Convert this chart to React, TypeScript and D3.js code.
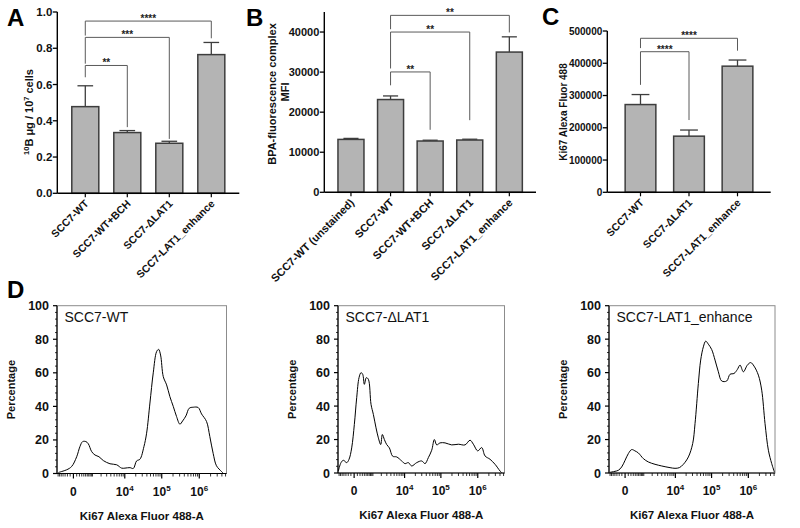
import React from "react";
import * as d3 from "d3";

const FONT = "'Liberation Sans', Arial, Helvetica, sans-serif";
const BAR_FILL = "#b4b4b4";
const BAR_STROKE = "#3d3d3d";
const BRACKET = "#5a5a5a";

// ---------- Panel A ----------
const aCategories = ["SCC7-WT", "SCC7-WT+BCH", "SCC7-ΔLAT1", "SCC7-LAT1_enhance"];
const aMeans = [0.478, 0.335, 0.276, 0.765];
const aErrors = [0.115, 0.011, 0.011, 0.067];
const aTicks = [0, 0.2, 0.4, 0.6, 0.8, 1.0];
const aBrackets = [
  { from: 0, to: 1, label: "**", y: 0.705, leftEnd: 0.64, rightEnd: 0.365 },
  { from: 0, to: 2, label: "***", y: 0.86, leftEnd: 0.715, rightEnd: 0.3 },
  { from: 0, to: 3, label: "****", y: 0.95, leftEnd: 0.87, rightEnd: 0.855 },
];

// ---------- Panel B ----------
const bCategories = ["SCC7-WT (unstained)", "SCC7-WT", "SCC7-WT+BCH", "SCC7-ΔLAT1", "SCC7-LAT1_enhance"];
const bMeans = [13200, 23150, 12800, 13050, 35000];
const bErrors = [250, 900, 200, 200, 3800];
const bTicks = [0, 10000, 20000, 30000, 40000];
const bBrackets = [
  { from: 1, to: 2, label: "**", y: 30040, leftEnd: 26700, rightEnd: 15600 },
  { from: 1, to: 3, label: "**", y: 40000, leftEnd: 30900, rightEnd: 18000 },
  { from: 1, to: 4, label: "**", y: 44160, leftEnd: 40700, rightEnd: 39900 },
];

// ---------- Panel C ----------
const cCategories = ["SCC7-WT", "SCC7-ΔLAT1", "SCC7-LAT1_enhance"];
const cMeans = [272000, 174000, 391000];
const cErrors = [31000, 19000, 19000];
const cTicks = [0, 100000, 200000, 300000, 400000, 500000];
const cBrackets = [
  { from: 0, to: 1, label: "****", y: 435800, leftEnd: 333000, rightEnd: 224000 },
  { from: 0, to: 2, label: "****", y: 477400, leftEnd: 447000, rightEnd: 439000 },
];

// ---------- Panel D (histograms) ----------
const dXDomain = [-780, 5.3e6];
const dXMajor = [0, 1e4, 1e5, 1e6];
const dYTicks = [0, 20, 40, 60, 80, 100];

const d1X = [-680, -470, -230, -50, 100, 220, 340, 520, 670, 930, 1240, 1700, 2360, 3770, 5900, 8170, 10100, 13900, 17200, 21100, 26000, 33300, 39300, 48300, 59300, 72800, 82400, 93100, 110000, 135000, 165000, 203000, 248000, 305000, 360000, 441000, 541000, 691000, 937000, 1150000, 1560000, 1910000, 2340000, 2870000, 3900000, 4320000];
const d1Y = [0.6, 1.2, 2.2, 4.2, 10, 16, 19, 19, 17.7, 13, 11, 10, 7.7, 5.8, 5.2, 3.2, 3.2, 3.5, 3.0, 7.5, 8.5, 16, 24, 42, 60, 72.6, 74, 70.6, 57.7, 52.8, 45.8, 40, 34, 29.4, 31.3, 34.3, 38.9, 39.5, 39.3, 35.5, 31, 22, 12, 4.6, 1.2, 0.2];

const d2X = [-753, -569, -430, -265, -168, -74, 6, 78, 161, 242, 318, 402, 514, 643, 841, 1043, 1312, 1589, 1908, 2166, 2514, 2976, 3600, 4535, 5944, 8285, 10300, 12780, 15830, 21780, 29970, 36950, 45600, 56250, 66500, 77000, 94800, 129600, 196700, 298400, 452300, 618300, 761000, 997700, 1280000, 1575000, 2152000, 2938000, 4013000, 4454000];
const d2Y = [1.2, 6.2, 7.6, 6.2, 8.2, 15, 29, 45, 57, 60, 59, 53, 57, 56, 41, 35, 27, 21, 17, 23, 20, 17, 15, 10, 9.6, 7.2, 5.6, 6.2, 4.2, 6.2, 7.2, 5.6, 9.2, 13.6, 20, 16.8, 18, 18, 16.8, 17.2, 16.8, 19.6, 17.2, 13.2, 15.2, 10.2, 8.2, 5.2, 1.2, 0.2];

const d3X = [-704, -395, -236, -107, 0, 102, 230, 387, 581, 960, 1478, 2477, 3990, 7030, 9760, 12940, 16760, 23100, 30400, 35250, 43500, 50400, 59600, 69100, 81700, 100800, 124200, 153000, 188600, 258300, 318100, 409000, 504000, 595400, 733500, 941400, 1160000, 1428000, 1873000, 2308000, 2843000, 3503000, 4318000, 5099000];
const d3Y = [0.4, 1, 1.6, 3.6, 7.6, 11.6, 14, 13.2, 12, 8.6, 6.6, 5.2, 4.2, 3.2, 2.8, 3.2, 5.2, 9.6, 17.6, 29.5, 53.5, 67.5, 75.4, 78.8, 77, 73.8, 67.5, 60.5, 55, 55, 59, 59.5, 61.9, 64.5, 60.5, 64.5, 66, 63.9, 58.5, 49.5, 29.5, 13.6, 5.6, 0.6];

type Bracket = { from: number; to: number; label: string; y: number; leftEnd: number; rightEnd: number };

function BarPanel(props: {
  x0: number; x1: number; yTop: number; yBottom: number; yMax: number;
  categories: string[]; means: number[]; errors: number[]; ticks: number[];
  fmt: (v: number) => string; brackets: Bracket[]; pi: number; po: number;
  tickFont: number; catFont: number;
}) {
  const { x0, x1, yTop, yBottom, yMax, categories, means, errors, ticks, fmt, brackets, pi, po, tickFont, catFont } = props;
  const x = d3.scaleBand<string>().domain(categories).range([x0, x1]).paddingInner(pi).paddingOuter(po);
  const y = d3.scaleLinear().domain([0, yMax]).range([yBottom, yTop]);
  const bw = x.bandwidth();
  const cx = (i: number) => (x(categories[i]) as number) + bw / 2;
  const cap = bw * 0.58;
  return (
    <g>
      {categories.map((c, i) => (
        <g key={c}>
          <line x1={cx(i)} x2={cx(i)} y1={y(means[i])} y2={y(means[i] + errors[i])} stroke={BAR_STROKE} strokeWidth={1.3} />
          <line x1={cx(i) - cap / 2} x2={cx(i) + cap / 2} y1={y(means[i] + errors[i])} y2={y(means[i] + errors[i])} stroke={BAR_STROKE} strokeWidth={1.3} />
          <rect x={x(c)} y={y(means[i])} width={bw} height={yBottom - y(means[i])} fill={BAR_FILL} stroke={BAR_STROKE} strokeWidth={1.5} />
        </g>
      ))}
      {brackets.map((b, k) => {
        const xa = cx(b.from), xb = cx(b.to);
        const yy = y(b.y);
        return (
          <g key={k}>
            <path d={`M${xa},${y(b.leftEnd)}V${yy}H${xb}V${y(b.rightEnd)}`} fill="none" stroke={BRACKET} strokeWidth={1} />
            <text x={(xa + xb) / 2} y={yy + 1} textAnchor="middle" fontFamily={FONT} fontWeight="bold" fontSize={10} fill="#222">{b.label}</text>
          </g>
        );
      })}
      <line x1={x0} x2={x0} y1={yTop} y2={yBottom} stroke="#000" strokeWidth={1.4} />
      <line x1={x0} x2={x1} y1={yBottom} y2={yBottom} stroke="#000" strokeWidth={1.4} />
      {ticks.map((t) => (
        <g key={t}>
          <line x1={x0 - 4.5} x2={x0} y1={y(t)} y2={y(t)} stroke="#000" strokeWidth={1.3} />
          <text x={x0 - 5} y={y(t)} dy="0.36em" textAnchor="end" fontFamily={FONT} fontWeight="bold" fontSize={tickFont} fill="#111">{fmt(t)}</text>
        </g>
      ))}
      {categories.map((c, i) => (
        <g key={c + "t"}>
          <line x1={cx(i)} x2={cx(i)} y1={yBottom} y2={yBottom + 4} stroke="#000" strokeWidth={1.2} />
          <text transform={`translate(${cx(i) + 4},${yBottom + 11}) rotate(-45)`} textAnchor="end" fontFamily={FONT} fontWeight="bold" fontSize={catFont} fill="#111">{c}</text>
        </g>
      ))}
    </g>
  );
}

function HistPanel(props: { left: number; right: number; top: number; bottom: number; xs: number[]; ys: number[]; label: string }) {
  const { left, right, top, bottom, xs, ys, label } = props;
  const x = d3.scaleSymlog().constant(450).domain(dXDomain).range([left, right]);
  const y = d3.scaleLinear().domain([0, 100]).range([bottom, top]);
  const pts: [number, number][] = xs.map((v, i) => [x(v), y(ys[i])]);
  const line = d3.line().curve(d3.curveCatmullRom.alpha(0.5))(pts) as string;
  const minor: number[] = [];
  for (let k = 1; k <= 7; k++) minor.push(-k * 100);
  for (let k = 1; k <= 9; k++) minor.push(k * 100);
  for (let e = 3; e <= 6; e++) for (let k = 2; k <= 9; k++) { const v = k * Math.pow(10, e); if (v < dXDomain[1]) minor.push(v); }
  minor.push(1000);
  const yMinor: number[] = [];
  for (let v = 0; v <= 100; v += 4) if (v % 20 !== 0) yMinor.push(v);
  const cxMid = (left + right) / 2;
  return (
    <g>
      <rect x={left} y={top} width={right - left} height={bottom - top} fill="none" stroke="#8c8c8c" strokeWidth={1} />
      <path d={line} fill="none" stroke="#000" strokeWidth={1} />
      <line x1={left} x2={left} y1={top} y2={bottom} stroke="#000" strokeWidth={1.2} />
      <line x1={left} x2={right} y1={bottom} y2={bottom} stroke="#000" strokeWidth={1.2} />
      {dYTicks.map((t) => (
        <g key={t}>
          <line x1={left - 4} x2={left} y1={y(t)} y2={y(t)} stroke="#000" strokeWidth={1.2} />
          <text x={left - 8} y={y(t)} dy="0.36em" textAnchor="end" fontFamily={FONT} fontWeight="bold" fontSize={12.5} fill="#111">{t}</text>
        </g>
      ))}
      {yMinor.map((t) => (
        <line key={"ym" + t} x1={left - 2} x2={left} y1={y(t)} y2={y(t)} stroke="#000" strokeWidth={0.8} />
      ))}
      {minor.map((t) => (
        <line key={"xm" + t} x1={x(t)} x2={x(t)} y1={bottom} y2={bottom + 3} stroke="#000" strokeWidth={0.8} />
      ))}
      {dXMajor.map((t) => (
        <g key={"xM" + t}>
          <line x1={x(t)} x2={x(t)} y1={bottom} y2={bottom + 5} stroke="#000" strokeWidth={1.2} />
          {t === 0 ? (
            <text x={x(t)} y={bottom + 22} textAnchor="middle" fontFamily={FONT} fontWeight="bold" fontSize={12} fill="#111">0</text>
          ) : (
            <text x={x(t)} y={bottom + 22} textAnchor="middle" fontFamily={FONT} fontWeight="bold" fontSize={12} fill="#111">
              10<tspan fontSize={8} dy={-5}>{Math.round(Math.log10(t))}</tspan>
            </text>
          )}
        </g>
      ))}
      <text x={left + 7.5} y={top + 16} fontFamily={FONT} fontSize={14} fill="#111">{label}</text>
      <text transform={`translate(${left - 42},${(top + bottom) / 2}) rotate(-90)`} textAnchor="middle" fontFamily={FONT} fontWeight="bold" fontSize={11} fill="#111">Percentage</text>
      <text x={cxMid} y={bottom + 46} textAnchor="middle" fontFamily={FONT} fontWeight="bold" fontSize={11.5} fill="#111">Ki67 Alexa Fluor 488-A</text>
    </g>
  );
}

export default function App() {
  const f1 = d3.format(".1f");
  const f0 = d3.format("d");
  return (
    <svg width={800} height={528} style={{ display: "block", position: "absolute", left: 0, top: 0 }}>
      <rect width={800} height={528} fill="#fff" />
      <text x={7} y={26} fontFamily={FONT} fontWeight="bold" fontSize={24}>A</text>
      <text x={246} y={26} fontFamily={FONT} fontWeight="bold" fontSize={24}>B</text>
      <text x={542} y={25} fontFamily={FONT} fontWeight="bold" fontSize={24}>C</text>
      <text x={7} y={298} fontFamily={FONT} fontWeight="bold" fontSize={24}>D</text>

      <BarPanel x0={57.3} x1={239.3} yTop={12} yBottom={193.3} yMax={1.0}
        categories={aCategories} means={aMeans} errors={aErrors} ticks={aTicks} fmt={f1}
        brackets={aBrackets} pi={0.357} po={0.345} tickFont={11.5} catFont={10.5} />
      <text transform="translate(33,112) rotate(-90)" textAnchor="middle" fontFamily={FONT} fontWeight="bold" fontSize={11} fill="#111">
        <tspan fontSize={7.5} dy={-4}>10</tspan><tspan dy={4}>B μg / 10</tspan><tspan fontSize={7.5} dy={-4}>7</tspan><tspan dy={4}> cells</tspan>
      </text>

      <BarPanel x0={324.3} x1={536} yTop={12} yBottom={192.3} yMax={45000}
        categories={bCategories} means={bMeans} errors={bErrors} ticks={bTicks} fmt={f0}
        brackets={bBrackets} pi={0.343} po={0.345} tickFont={11} catFont={11} />
      <text transform="translate(275.5,94) rotate(-90)" textAnchor="middle" fontFamily={FONT} fontWeight="bold" fontSize={11} fill="#111">BPA-fluorescence complex</text>
      <text transform="translate(289,92) rotate(-90)" textAnchor="middle" fontFamily={FONT} fontWeight="bold" fontSize={11} fill="#111">MFI</text>

      <BarPanel x0={607.3} x1={770.7} yTop={31} yBottom={192.3} yMax={500000}
        categories={cCategories} means={cMeans} errors={cErrors} ticks={cTicks} fmt={f0}
        brackets={cBrackets} pi={0.367} po={0.368} tickFont={10} catFont={10.5} />
      <text transform="translate(567,112) rotate(-90)" textAnchor="middle" fontFamily={FONT} fontWeight="bold" fontSize={10} fill="#111">Ki67 Alexa Fluor 488</text>

      <HistPanel left={57} right={226.5} top={305.7} bottom={473.5} xs={d1X} ys={d1Y} label="SCC7-WT" />
      <HistPanel left={338} right={504.5} top={305.7} bottom={473} xs={d2X} ys={d2Y} label="SCC7-ΔLAT1" />
      <HistPanel left={609} right={775} top={305.7} bottom={473} xs={d3X} ys={d3Y} label="SCC7-LAT1_enhance" />
    </svg>
  );
}
